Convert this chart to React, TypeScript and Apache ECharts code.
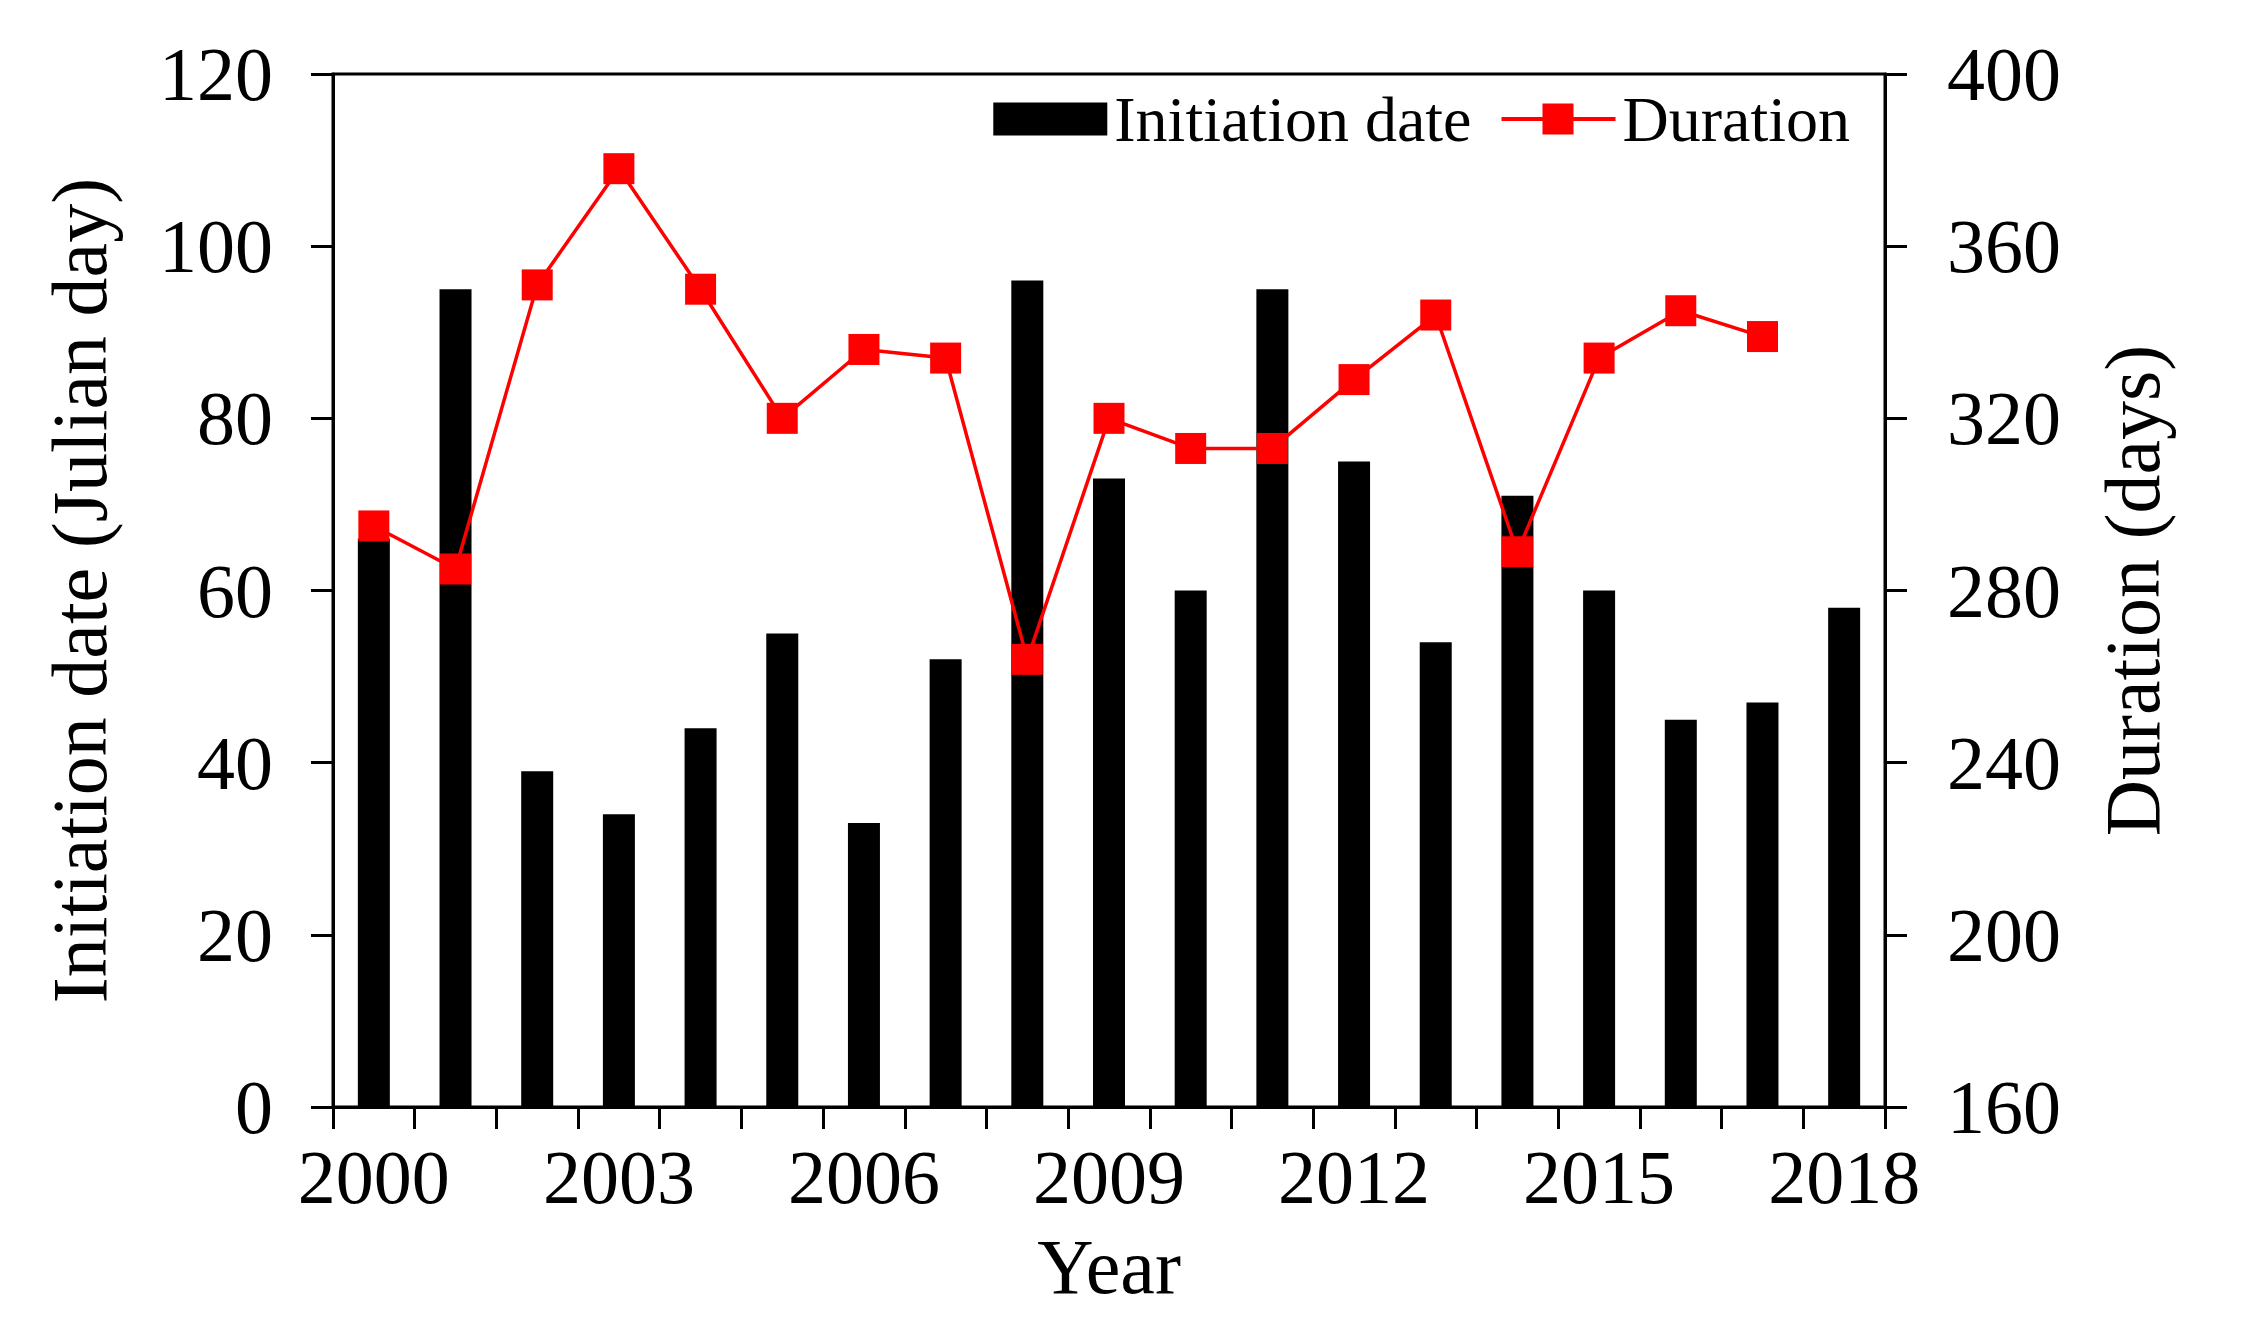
import React, { useEffect, useRef } from "react";
import * as echarts from "echarts";

const years = ["2000","2001","2002","2003","2004","2005","2006","2007","2008","2009","2010","2011","2012","2013","2014","2015","2016","2017","2018"];
const initiationDate = [66, 95, 39, 34, 44, 55, 33, 52, 96, 73, 60, 95, 75, 54, 71, 60, 45, 47, 58];
const duration = [295, 285, 351, 378, 350, 320, 336, 334, 264, 320, 313, 313, 329, 344, 289, 334, 345, 339];

const FONT = "'Liberation Serif', 'Times New Roman', serif";
const LINE_ICON = "path://M0 14.5H114V18.5H0Z M41 1H72V32H41Z";

export default function App() {
  const ref = useRef<HTMLDivElement>(null);
  useEffect(() => {
    if (!ref.current) return;
    const chart = echarts.init(ref.current, null, { renderer: "svg" });
    const axisLine = { show: true, lineStyle: { color: "#000", width: 3 } };
    const axisTick = { show: true, inside: false, length: 22, lineStyle: { color: "#000", width: 3 } };
    chart.setOption({
      animation: false,
      backgroundColor: "#fff",
      textStyle: { fontFamily: FONT, color: "#000" },
      grid: {
        left: 333, right: 358, top: 74, bottom: 225,
        show: true, borderColor: "#000", borderWidth: 3, backgroundColor: "transparent",
      },
      legend: {
        right: 388, top: 82,
        itemWidth: 114, itemHeight: 33, itemGap: 30,
        textStyle: { fontFamily: FONT, fontSize: 64, color: "#000", padding: [0, 0, 0, 2] },
        data: [
          { name: "Initiation date", icon: "rect" },
          { name: "Duration", icon: LINE_ICON, itemStyle: { color: "#ff0000" } },
        ],
      },
      xAxis: {
        type: "category",
        data: years,
        boundaryGap: true,
        name: "Year",
        nameLocation: "middle",
        nameGap: 120,
        nameTextStyle: { fontFamily: FONT, fontSize: 78, color: "#000" },
        axisLine,
        axisTick: { ...axisTick, interval: 0, alignWithLabel: false },
        axisLabel: { interval: 2, margin: 32, fontFamily: FONT, fontSize: 76, color: "#000" },
        splitLine: { show: false },
      },
      yAxis: [
        {
          type: "value",
          min: 0, max: 120, interval: 20,
          name: "Initiation date (Julian day)",
          nameLocation: "middle",
          nameGap: 215,
          nameTextStyle: { fontFamily: FONT, fontSize: 78, color: "#000" },
          axisLine,
          axisTick,
          axisLabel: { margin: 60, fontFamily: FONT, fontSize: 76, color: "#000" },
          splitLine: { show: false },
        },
        {
          type: "value",
          position: "right",
          min: 160, max: 400, interval: 40,
          name: "Duration (days)",
          nameLocation: "middle",
          nameGap: 208,
          nameTextStyle: { fontFamily: FONT, fontSize: 78, color: "#000" },
          axisLine,
          axisTick,
          axisLabel: { margin: 62, fontFamily: FONT, fontSize: 76, color: "#000" },
          splitLine: { show: false },
        },
      ],
      series: [
        {
          name: "Initiation date",
          type: "bar",
          data: initiationDate,
          yAxisIndex: 0,
          barWidth: 32,
          itemStyle: { color: "#000" },
        },
        {
          name: "Duration",
          type: "line",
          data: duration,
          yAxisIndex: 1,
          symbol: "rect",
          symbolSize: 31,
          lineStyle: { color: "#ff0000", width: 3.5 },
          itemStyle: { color: "#ff0000" },
        },
      ],
    });
    return () => chart.dispose();
  }, []);
  return (
    <div
      ref={ref}
      style={{ position: "fixed", left: 0, top: 0, width: 2243, height: 1332, background: "#fff" }}
    />
  );
}
